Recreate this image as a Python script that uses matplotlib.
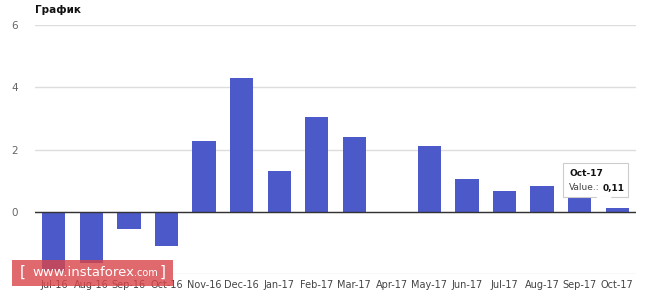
import numpy as np
import matplotlib.pyplot as plt
from matplotlib.patches import FancyBboxPatch, Polygon

months = ["Jul-16", "Aug-16", "Sep-16", "Oct-16", "Nov-16", "Dec-16", "Jan-17", "Feb-17",
          "Mar-17", "Apr-17", "May-17", "Jun-17", "Jul-17", "Aug-17", "Sep-17", "Oct-17"]
values = [-1.9, -1.65, -0.55, -1.1, 2.28, 4.3, 1.31, 3.04,
          2.4, 0.0, 2.12, 1.06, 0.67, 0.83, 1.57, 0.11]
yticks = [-2, 0, 2, 4, 6]
ytick_labels = ["", "0", "2", "4", "6"]

fig = plt.figure(figsize=(6.64, 2.95), dpi=100)
ax = fig.add_axes([35 / 664, 21 / 295, 601 / 664, 249 / 295])

x = np.arange(len(months))
ax.bar(x, values, width=0.62, color="#4c59c9", zorder=2)
ax.axhline(0, color="#333333", lw=1, zorder=3)

ax.set_xlim(-0.5, len(months) - 0.5)
ax.set_ylim(-2, 6)
ax.set_yticks(yticks)
ax.set_yticklabels(ytick_labels)
ax.grid(axis="y", color="#dddddd", lw=1, zorder=0)
ax.set_xticks(x)
ax.set_xticklabels(months)
ax.tick_params(axis="x", length=0, labelsize=7, labelcolor="#444444", pad=4)
ax.tick_params(axis="y", length=0, labelsize=7.5, labelcolor="#666666", pad=12)
for s in ax.spines.values():
    s.set_visible(False)

fig.text(35 / 664, 1 - 10 / 295, "График", fontsize=7.5, fontweight="bold",
         color="#111111", va="center", ha="left")

# tooltip
tip = FancyBboxPatch((563 / 664, 1 - 197 / 295), 65 / 664, 34 / 295,
                     boxstyle="square,pad=0", transform=fig.transFigure,
                     facecolor="white", edgecolor="#cccccc", lw=0.8, zorder=5)
fig.patches.append(tip)
tri = Polygon([(596 / 664, 1 - 196.5 / 295), (612 / 664, 1 - 196.5 / 295), (605 / 664, 1 - 207 / 295)],
              closed=True, transform=fig.transFigure, facecolor="white",
              edgecolor="none", zorder=6)
fig.patches.append(tri)
fig.text(569 / 664, 1 - 174 / 295, "Oct-17", fontsize=6.5, fontweight="bold", color="#111111",
         va="center", zorder=7)
fig.text(569 / 664, 1 - 188 / 295, "Value.:", fontsize=6.5, color="#444444", va="center", zorder=7)
fig.text(603 / 664, 1 - 188 / 295, "0,11", fontsize=6.5, fontweight="bold", color="#111111",
         va="center", zorder=7)

# watermark
wm = FancyBboxPatch((12 / 664, 1 - 286 / 295), 161 / 664, 26 / 295,
                    boxstyle="square,pad=0", transform=fig.transFigure,
                    facecolor="#d94448", alpha=0.8, edgecolor="none", zorder=8)
fig.patches.append(wm)
fig.text(20 / 664, 1 - 272 / 295, "[", fontsize=11, color="white", va="center", zorder=9)
t_main = fig.text(32 / 664, 1 - 272 / 295, "www.instaforex", fontsize=9.5, color="white",
                  va="center", zorder=9)
fig.canvas.draw()
bb = t_main.get_window_extent(fig.canvas.get_renderer())
fig.text(bb.x1 / fig.bbox.width, 1 - 273 / 295, ".com", fontsize=7, color="white",
         va="center", zorder=9)
fig.text(160 / 664, 1 - 272 / 295, "]", fontsize=11, color="white", va="center", zorder=9)

fig.savefig("out.png", dpi=100)
